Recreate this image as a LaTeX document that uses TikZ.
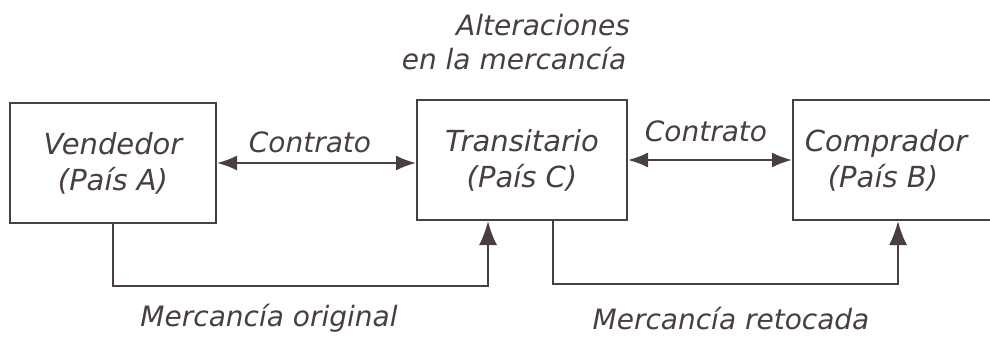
\documentclass[tikz,border=0pt]{standalone}
\usepackage{fontspec}
\setmainfont{DejaVu Sans}
\usetikzlibrary{arrows.meta}
\definecolor{ink}{HTML}{4A3F3F}
\tikzset{
  box/.style={draw=ink, line width=2pt, minimum height=120pt, inner sep=0pt, align=center, font=\fontsize{29}{36}\selectfont\itshape, text=ink},
  lbl/.style={font=\fontsize{28}{32}\selectfont\itshape, text=ink, inner sep=0pt},
  conn/.style={draw=ink, line width=2pt},
  tip/.style={-{Latex[length=24pt,width=18pt]}},
  bitip/.style={{Latex[length=20pt,width=15pt]}-{Latex[length=20pt,width=15pt]}}
}
\begin{document}
\begin{tikzpicture}[x=1pt,y=1pt]
\clip (0,0) rectangle (990,338);
\fill[white] (0,0) rectangle (990,338);
\node[box, minimum width=206pt] (V) at (113,175) {Vendedor\\(País A)};
\node[box, minimum width=210pt] (T) at (522,178) {Transitario\\(País C)};
\node[box, minimum width=210pt] (C) at (898,178) {\hspace*{-24pt}Comprador\\\hspace*{-30pt}(País B)};
\node[lbl] (alt1) at (543,313) {Alteraciones};
\node[lbl] (alt2) at (514,279) {en la mercancía};
\node[lbl] (c1) at (310,196) {Contrato};
\node[lbl] (c2) at (706,207) {Contrato};
\node[lbl] (m1) at (269,20) {Mercancía original};
\node[lbl] (m2) at (731,20) {Mercancía retocada};
\coordinate (tin) at ([xshift=-34pt]T.south);
\coordinate (tout) at ([xshift=31pt]T.south);
\draw[conn, bitip] (V.east) -- (V.east -| T.west);
\draw[conn, bitip] (T.east) -- (C.west);
\draw[conn, tip] (V.south) -- ++(0,-62) -| (tin);
\draw[conn, tip] (tout) -- ++(0,-63) -| (C.south);
\end{tikzpicture}
\end{document}
